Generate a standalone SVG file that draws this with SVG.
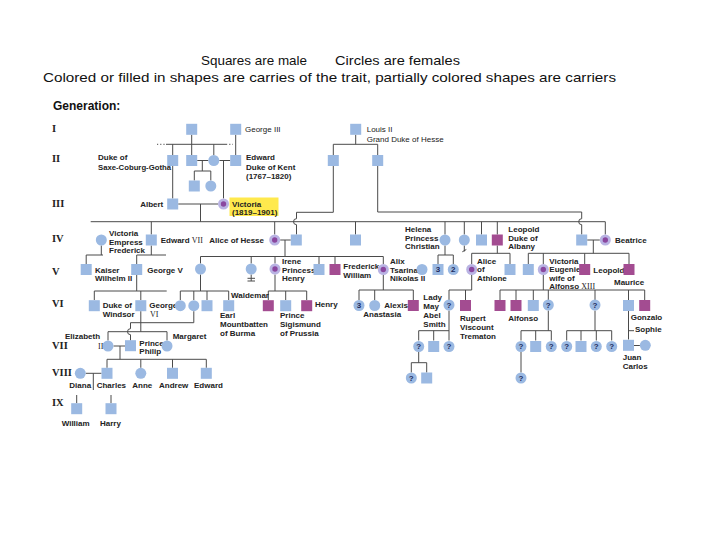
<svg xmlns="http://www.w3.org/2000/svg" width="720" height="540" viewBox="0 0 720 540">
<style>
.m{fill:#9bb9e2}
.a{fill:#a34c91}
.c{fill:#b9b3e3}
.d{fill:#8a479f}
.ln{fill:none;stroke:#4a4a4a;stroke-width:1}
.dt{fill:none;stroke:#4a4a4a;stroke-width:1;stroke-dasharray:1.2,2}
.t{font-family:"Liberation Sans",Arial,sans-serif;font-size:8px;font-weight:bold;fill:#222}
.tr{font-family:"Liberation Sans",Arial,sans-serif;font-size:8px;fill:#222}
.rs{font-family:"Liberation Serif","Times New Roman",serif;font-weight:normal}
.r{font-family:"Liberation Serif","Times New Roman",serif;font-size:10.5px;font-weight:bold;fill:#222}
.q{font-family:"Liberation Sans",Arial,sans-serif;font-size:8px;font-weight:bold;fill:#1d2b5e;text-anchor:middle}
.h{font-family:"Liberation Sans",Arial,sans-serif;font-size:13px;fill:#111}
</style>
<defs>
<rect id="sq" x="-5.5" y="-5.5" width="11" height="11"/>
<circle id="ci" r="5.5"/>
</defs>
<rect width="720" height="540" fill="#fff"/>

<g id="title">
<text class="h" x="201" y="65" textLength="106" lengthAdjust="spacingAndGlyphs">Squares are male</text>
<text class="h" x="335" y="65" textLength="125" lengthAdjust="spacingAndGlyphs">Circles are females</text>
<text class="h" x="43" y="82" textLength="573" lengthAdjust="spacingAndGlyphs">Colored or filled in shapes are carries of the trait, partially colored shapes are carriers</text>
<text x="53" y="110" font-family="Liberation Sans, Arial, sans-serif" font-size="12" font-weight="bold" fill="#111">Generation:</text>
</g>

<g id="generations">
<text class="r" x="52" y="132">I</text>
<text class="r" x="52" y="162">II</text>
<text class="r" x="52" y="207">III</text>
<text class="r" x="52" y="242">IV</text>
<text class="r" x="52" y="274.5">V</text>
<text class="r" x="52" y="307">VI</text>
<text class="r" x="52" y="349">VII</text>
<text class="r" x="52" y="376">VIII</text>
<text class="r" x="52" y="406">IX</text>
</g>

<g id="victoria-box"><rect x="229.5" y="197.5" width="49" height="18.5" fill="#ffe94d"/></g>

<g id="connectors">
<path class="ln" d="M191.7,134.8 V155 M166,144.3 H226 M172.7,144.3 V155 M213.8,144.3 V155 M235.7,134.8 V155"/>
<path class="dt" d="M157,144.3 H166 M226,144.3 H233"/>
<path class="ln" d="M355.7,134.8 V144.3 M333.3,144.3 H377.7 M333.3,144.3 V155 M377.7,144.3 V155"/>
<path class="ln" d="M197.2,160.5 H208.3 M202.3,160.5 V171 M194.3,171 H210.8 M194.3,171 V180.5 M210.8,171 V180.5"/>
<path class="ln" d="M219.3,160.5 H230.2 M223.5,160.5 V198.5 M172.7,166 V198.5"/>
<path class="ln" d="M178.2,204 H218 M200.5,204 V221.7"/>
<path class="ln" d="M90.7,221.7 H605.3"/>
<path class="ln" d="M333.3,166 V212.3 H296.5 V218.7 a3,3 0 0 0 0,6 V234.5"/>
<path class="ln" d="M377.7,166 V212 H581.7 V218.7 a3,3 0 0 0 0,6 V234.5"/>
<path class="ln" d="M151.3,221.7 V234.5 M274.7,221.7 V234.5 M355.5,221.7 V234.5 M445,221.7 V234.5 M464.3,221.7 V234.5 M481.5,221.7 V234.5 M497.3,221.7 V234.5 M605.3,221.7 V234.5"/>
<path class="ln" d="M280.2,240 H290.8 M285,240 V256.5 M587.2,240 H599.8 M593.3,240 V253.3"/>
<path class="ln" d="M151.3,245.5 V255 M136.7,255 H166 M136.7,255 V264"/>
<path class="ln" d="M101.3,245.5 V255 M86.2,255 H103 M86.2,255 V264"/>
<path class="ln" d="M200.5,256.5 H383.3 M200.5,256.5 V263.5 M251.2,256.5 V263.5 M275,256.5 V263.5 M319,256.5 V264 M335,256.5 V264 M383.3,256.5 V264"/>
<path class="ln" d="M445,245.5 V255 M438,255 H453.3 M438,255 V264 M453.3,255 V264"/>
<path class="ln" d="M464.3,245.5 V251.5 M462.3,251.8 L466.3,249.5"/>
<path class="ln" d="M497.3,245.5 V253.3 M471.7,253.3 H510 M471.7,253.3 V264 M510,253.3 V264"/>
<path class="ln" d="M528.3,253.3 H629 M528.3,253.3 V264 M543.3,253.3 V264 M584.7,253.3 V264 M629,253.3 V264"/>
<path class="ln" d="M251.2,274.5 V281 M247.5,278.3 H255 M247.5,281 H255"/>
<path class="ln" d="M136.7,275 V291 M94.3,291 H166.7 M94.3,291 V300 M140.8,291 V300"/>
<path class="ln" d="M200.5,274.5 V291 M180.3,291 H228.7 M180.3,291 V300 M193.8,291 V300 M207,291 V300 M228.7,291 V300"/>
<path class="ln" d="M275,274.5 V291 M268.3,291 H306.7 M268.3,291 V300 M285.7,291 V300 M306.7,291 V300"/>
<path class="ln" d="M383.3,275 V290 M359,290 H413.3 M359,290 V300 M374.7,290 V300 M413.3,290 V300"/>
<path class="ln" d="M471.7,275 V290 M449,290 H471.7 M449,290 V300 M465.5,290 V300"/>
<path class="ln" d="M543.3,275 V290 M500,290 H644.7 M500,290 V300 M516,290 V300 M533.3,290 V300 M548.3,290 V300 M595,290 V300 M628.5,290 V300 M644.7,290 V300"/>
<path class="ln" d="M140.8,311.2 V331.7 M108,331.7 H167 M108,331.7 V340.5 M167,331.7 V340.5"/>
<path class="ln" d="M193.8,311.2 V322.7 H130.5 V328.7 a3,3 0 0 0 0,6 V340.5"/>
<path class="ln" d="M113.5,346 H125 M120,346 V359.3 M107,359.3 H206.3 M107,359.3 V367.8 M140.8,359.3 V367.8 M172.5,359.3 V367.8 M206.3,359.3 V367.8"/>
<path class="ln" d="M85.8,373.3 H101.5 M93.3,373.3 V390 M76.7,395 V403.2 M111,395 V403.2"/>
<path class="ln" d="M449,310.5 V340.5 M418.7,330.7 H449 M418.7,330.7 V340.5 M433.7,330.7 V340.5"/>
<path class="ln" d="M418.7,351.5 V362.7 M411.3,362.7 H426.7 M411.3,362.7 V372.5 M426.7,362.7 V372.5"/>
<path class="ln" d="M548.3,310.5 V330.7 M521,330.7 H551.3 M521,330.7 V340.5 M535.7,330.7 V340.5 M551.3,330.7 V340.5 M521,351.5 V372.5"/>
<path class="ln" d="M595,310.5 V330.7 M566.7,330.7 H611.7 M566.7,330.7 V340.5 M581,330.7 V340.5 M596.3,330.7 V340.5 M611.7,330.7 V340.5"/>
<path class="ln" d="M628.5,311 V339.5 M628.5,330.7 H634 M634,345.5 H640"/>
</g>

<!-- Generation I -->
<g id="n-g1a"><use href="#sq" class="m" x="191.7" y="129.3"/></g>
<g id="n-george3"><use href="#sq" class="m" x="235.7" y="129.3"/><text class="tr" x="245" y="132">George III</text></g>
<g id="n-louis2"><use href="#sq" class="m" x="355.7" y="129.3"/><text class="tr" x="366.7" y="132">Louis II</text><text class="tr" x="366.7" y="141.5">Grand Duke of Hesse</text></g>

<!-- Generation II -->
<g id="n-duke-sc"><use href="#sq" class="m" x="172.7" y="160.5"/><text class="t" x="98" y="160">Duke of</text><text class="t" x="98" y="170" textLength="73" lengthAdjust="spacingAndGlyphs">Saxe-Coburg-Gotha</text></g>
<g id="n-g2b"><use href="#sq" class="m" x="191.7" y="160.5"/></g>
<g id="n-g2c"><use href="#ci" class="m" x="213.8" y="160.5"/></g>
<g id="n-edward-kent"><use href="#sq" class="m" x="235.7" y="160.5"/><text class="t" x="246" y="160">Edward</text><text class="t" x="246" y="169.5">Duke of Kent</text><text class="t" x="246" y="179">(1767–1820)</text></g>
<g id="n-g2e"><use href="#sq" class="m" x="333.3" y="160.5"/></g>
<g id="n-g2f"><use href="#sq" class="m" x="377.7" y="160.5"/></g>
<g id="n-g2g"><use href="#sq" class="m" x="194.3" y="186"/></g>
<g id="n-g2h"><use href="#ci" class="m" x="210.8" y="186"/></g>

<!-- Generation III -->
<g id="n-albert"><use href="#sq" class="m" x="172.7" y="204"/><text class="t" x="163.3" y="207" text-anchor="end">Albert</text></g>
<g id="n-victoria"><use href="#ci" class="c" x="223.5" y="204"/><circle class="d" cx="223.5" cy="204" r="2.7"/><text class="t" x="232" y="206.5">Victoria</text><text class="t" x="232" y="214.5">(1819–1901)</text></g>

<!-- Generation IV -->
<g id="n-vic-empress"><use href="#ci" class="m" x="101.3" y="240"/><text class="t" x="109" y="236">Victoria</text><text class="t" x="109" y="244.5">Empress</text><text class="t" x="109" y="253">Frederick</text></g>
<g id="n-edward7"><use href="#sq" class="m" x="151.3" y="240"/><text class="t" x="160.7" y="243">Edward <tspan class="rs">VII</tspan></text></g>
<g id="n-alice-hesse"><use href="#ci" class="c" x="274.7" y="240"/><circle class="d" cx="274.7" cy="240" r="2.7"/><text class="t" x="209.3" y="243">Alice of Hesse</text></g>
<g id="n-louis4"><use href="#sq" class="m" x="296.3" y="240"/></g>
<g id="n-g4sq"><use href="#sq" class="m" x="355.5" y="240"/></g>
<g id="n-helena"><use href="#ci" class="m" x="445" y="240"/><text class="t" x="405" y="232">Helena</text><text class="t" x="405" y="240.5">Princess</text><text class="t" x="405" y="249">Christian</text></g>
<g id="n-louise"><use href="#ci" class="m" x="464.3" y="240"/></g>
<g id="n-arthur"><use href="#sq" class="m" x="481.5" y="240"/></g>
<g id="n-leopold-albany"><use href="#sq" class="a" x="497.3" y="240"/><text class="t" x="508.3" y="232">Leopold</text><text class="t" x="508.3" y="240.5">Duke of</text><text class="t" x="508.3" y="249">Albany</text></g>
<g id="n-henry-b"><use href="#sq" class="m" x="581.7" y="240"/></g>
<g id="n-beatrice"><use href="#ci" class="c" x="605.3" y="240"/><circle class="d" cx="605.3" cy="240" r="2.7"/><text class="t" x="615" y="243">Beatrice</text></g>

<!-- Generation V -->
<g id="n-kaiser"><use href="#sq" class="m" x="86.2" y="269.5"/><text class="t" x="95" y="272.5">Kaiser</text><text class="t" x="95" y="281">Wilhelm II</text></g>
<g id="n-george5"><use href="#sq" class="m" x="136.7" y="269.5"/><text class="t" x="147.3" y="273">George V</text></g>
<g id="n-vic-hesse"><use href="#ci" class="m" x="200.5" y="269"/></g>
<g id="n-ella"><use href="#ci" class="m" x="251.2" y="269"/></g>
<g id="n-irene"><use href="#ci" class="c" x="275" y="269"/><circle class="d" cx="275" cy="269" r="2.7"/><text class="t" x="282" y="264">Irene</text><text class="t" x="282" y="272.5">Princess</text><text class="t" x="282" y="281">Henry</text></g>
<g id="n-ernest"><use href="#sq" class="m" x="319" y="269.5"/></g>
<g id="n-fw"><use href="#sq" class="a" x="335" y="269.5"/><text class="t" x="343.3" y="269.3">Frederick</text><text class="t" x="343.3" y="278">William</text></g>
<g id="n-alix"><use href="#ci" class="c" x="383.3" y="269.5"/><circle class="d" cx="383.3" cy="269.5" r="2.7"/><text class="t" x="390" y="264">Alix</text><text class="t" x="390" y="272.5">Tsarina</text><text class="t" x="390" y="281">Nikolas II</text></g>
<g id="n-nicholas"><use href="#ci" class="m" x="422" y="269.5"/></g>
<g id="n-h3"><use href="#sq" class="m" x="438" y="269.5"/><text class="q" x="438" y="272.3">3</text></g>
<g id="n-h2"><use href="#ci" class="m" x="453.3" y="269.5"/><text class="q" x="453.3" y="272.3">2</text></g>
<g id="n-alice-athlone"><use href="#ci" class="c" x="471.7" y="269.5"/><circle class="d" cx="471.7" cy="269.5" r="2.7"/><text class="t" x="477" y="263.5">Alice</text><text class="t" x="477" y="272">of</text><text class="t" x="477" y="280.5">Athlone</text></g>
<g id="n-charles-a"><use href="#sq" class="m" x="510" y="269.5"/></g>
<g id="n-alexander-b"><use href="#sq" class="m" x="528.3" y="269.5"/></g>
<g id="n-vic-eugenie"><use href="#ci" class="c" x="543.3" y="269.5"/><circle class="d" cx="543.3" cy="269.5" r="2.7"/><text class="t" x="549.3" y="264" font-size="7.4">Victoria</text><text class="t" x="549.3" y="272.3" font-size="7.4">Eugenie,</text><text class="t" x="549.3" y="280.5" font-size="7.4">wife of</text><text class="t" x="549.3" y="288.5" font-size="7.4">Alfonso <tspan class="rs">XIII</tspan></text></g>
<g id="n-leopold-b"><use href="#sq" class="a" x="584.7" y="269.5"/><text class="t" x="593.3" y="273">Leopold</text></g>
<g id="n-maurice"><use href="#sq" class="a" x="629" y="269.5"/><text class="t" x="614" y="285">Maurice</text></g>

<!-- Generation VI -->
<g id="n-windsor"><use href="#sq" class="m" x="94.3" y="305.7"/><text class="t" x="102.7" y="308.3">Duke of</text><text class="t" x="102.7" y="317.3">Windsor</text></g>
<g id="n-george6"><use href="#sq" class="m" x="140.8" y="305.7"/><text class="t" x="149.3" y="308.3">George</text><text class="t rs" x="150" y="317.3" font-weight="normal">VI</text></g>
<g id="n-louise-b"><use href="#ci" class="m" x="180.3" y="305.7"/></g>
<g id="n-alice-b"><use href="#ci" class="m" x="193.8" y="305.7"/></g>
<g id="n-george-b"><use href="#sq" class="m" x="207" y="305.7"/></g>
<g id="n-mountbatten"><use href="#sq" class="m" x="228.7" y="305.7"/><text class="t" x="220" y="317.5">Earl</text><text class="t" x="220" y="326.5">Mountbatten</text><text class="t" x="220" y="335.5">of Burma</text></g>
<g id="n-waldemar"><use href="#sq" class="a" x="268.3" y="305.7"/><text class="t" x="231" y="297.5">Waldemar</text></g>
<g id="n-sigismund"><use href="#sq" class="m" x="285.7" y="305.7"/><text class="t" x="280" y="318">Prince</text><text class="t" x="280" y="327">Sigismund</text><text class="t" x="280" y="336">of Prussia</text></g>
<g id="n-henry"><use href="#sq" class="a" x="306.7" y="305.7"/><text class="t" x="315" y="306.5">Henry</text></g>
<g id="n-n3"><use href="#ci" class="m" x="359" y="305.5"/><text class="q" x="359" y="308.3">3</text></g>
<g id="n-anastasia"><use href="#ci" class="m" x="374.7" y="305.5"/><text class="t" x="363.3" y="317">Anastasia</text></g>
<g id="n-alexis"><use href="#sq" class="a" x="413.3" y="305.5"/><text class="t" x="384.3" y="308">Alexis</text></g>
<g id="n-lady-may"><use href="#ci" class="m" x="449" y="305"/><text class="q" x="449" y="307.8">?</text><text class="t" x="423.3" y="300">Lady</text><text class="t" x="423.3" y="309">May</text><text class="t" x="423.3" y="318">Abel</text><text class="t" x="423.3" y="327">Smith</text></g>
<g id="n-rupert"><use href="#sq" class="a" x="465.5" y="305.5"/><text class="t" x="460" y="321">Rupert</text><text class="t" x="460" y="330">Viscount</text><text class="t" x="460" y="339">Trematon</text></g>
<g id="n-alfonso"><use href="#sq" class="a" x="500" y="305.5"/><text class="t" x="508.3" y="320.5">Alfonso</text></g>
<g id="n-jaime-a"><use href="#sq" class="a" x="516" y="305.5"/></g>
<g id="n-jaime"><use href="#sq" class="m" x="533.3" y="305.5"/></g>
<g id="n-q6a"><use href="#ci" class="m" x="548.3" y="305"/><text class="q" x="548.3" y="307.8">?</text></g>
<g id="n-q6b"><use href="#ci" class="m" x="595" y="305"/><text class="q" x="595" y="307.8">?</text></g>
<g id="n-juan"><use href="#sq" class="m" x="628.5" y="305.5"/></g>
<g id="n-gonzalo"><use href="#sq" class="a" x="644.7" y="305.5"/><text class="t" x="630.7" y="320">Gonzalo</text></g>

<!-- Generation VII -->
<g id="n-elizabeth"><use href="#ci" class="m" x="108" y="346"/><text class="t" x="65" y="339">Elizabeth</text><text class="t rs" x="98" y="349.3" font-weight="normal">II</text></g>
<g id="n-philip"><use href="#sq" class="m" x="130.5" y="345.7"/><text class="t" x="139.3" y="346" font-size="7.5">Prince</text><text class="t" x="139.3" y="354" font-size="7.5">Philip</text></g>
<g id="n-margaret"><use href="#ci" class="m" x="167" y="346"/><text class="t" x="172.7" y="339">Margaret</text></g>
<g id="n-q7a"><use href="#ci" class="m" x="418.7" y="346.5"/><text class="q" x="418.7" y="349.3">?</text></g>
<g id="n-s7a"><use href="#sq" class="m" x="433.7" y="346.5"/></g>
<g id="n-q7b"><use href="#ci" class="m" x="449" y="346.5"/><text class="q" x="449" y="349.3">?</text></g>
<g id="n-q7c"><use href="#ci" class="m" x="521" y="346.5"/><text class="q" x="521" y="349.3">?</text></g>
<g id="n-s7b"><use href="#sq" class="m" x="535.7" y="346.5"/></g>
<g id="n-q7d"><use href="#ci" class="m" x="551.3" y="346.5"/><text class="q" x="551.3" y="349.3">?</text></g>
<g id="n-q7e"><use href="#ci" class="m" x="566.7" y="346.5"/><text class="q" x="566.7" y="349.3">?</text></g>
<g id="n-s7c"><use href="#sq" class="m" x="581" y="346.5"/></g>
<g id="n-q7f"><use href="#ci" class="m" x="596.3" y="346.5"/><text class="q" x="596.3" y="349.3">?</text></g>
<g id="n-q7g"><use href="#ci" class="m" x="611.7" y="346.5"/><text class="q" x="611.7" y="349.3">?</text></g>
<g id="n-juan-carlos"><use href="#sq" class="m" x="628.5" y="345.3"/><text class="t" x="622.7" y="360">Juan</text><text class="t" x="622.7" y="369">Carlos</text></g>
<g id="n-sophie"><use href="#ci" class="m" x="645.3" y="345.3"/><text class="t" x="635" y="332">Sophie</text></g>

<!-- Generation VIII -->
<g id="n-diana"><use href="#ci" class="m" x="80.3" y="373.3"/><text class="t" x="69.3" y="388.3">Diana</text></g>
<g id="n-charles"><use href="#sq" class="m" x="107" y="373.3"/><text class="t" x="96.7" y="388.3">Charles</text></g>
<g id="n-anne"><use href="#ci" class="m" x="140.8" y="373.3"/><text class="t" x="132.3" y="388.3">Anne</text></g>
<g id="n-andrew"><use href="#sq" class="m" x="172.5" y="373.3"/><text class="t" x="159" y="388.3">Andrew</text></g>
<g id="n-edward"><use href="#sq" class="m" x="206.3" y="373.3"/><text class="t" x="194" y="388.3">Edward</text></g>
<g id="n-q8a"><use href="#ci" class="m" x="411.3" y="378"/><text class="q" x="411.3" y="380.8">?</text></g>
<g id="n-s8a"><use href="#sq" class="m" x="426.7" y="378"/></g>
<g id="n-q8b"><use href="#ci" class="m" x="521" y="378"/><text class="q" x="521" y="380.8">?</text></g>

<!-- Generation IX -->
<g id="n-william"><use href="#sq" class="m" x="76.7" y="408.7"/><text class="t" x="61.7" y="426">William</text></g>
<g id="n-harry"><use href="#sq" class="m" x="111" y="408.7"/><text class="t" x="100" y="426">Harry</text></g>
</svg>
